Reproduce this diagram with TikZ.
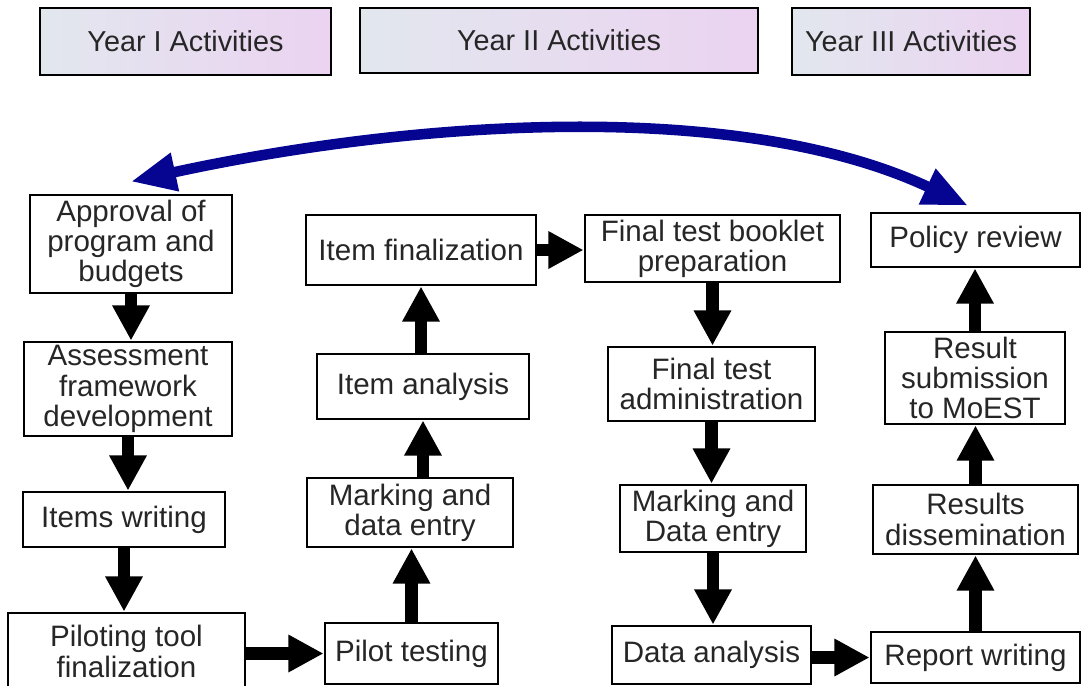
\documentclass[tikz,border=0pt]{standalone}
\usepackage{fontspec}
\setmainfont{Liberation Sans}
\usetikzlibrary{arrows.meta}
\definecolor{headl}{RGB}{226,231,238}
\definecolor{headr}{RGB}{235,211,241}
\definecolor{loopblue}{RGB}{5,5,145}
\begin{document}
\begin{tikzpicture}[x=0.025cm,y=-0.025cm,
    year/.style={draw,line width=2pt,left color=headl,right color=headr,text=black!85,
      font=\fontsize{20.5pt}{22pt}\selectfont,inner sep=0pt},
    box/.style={draw,line width=2pt,fill=white,text=black!85,align=center,
      font=\fontsize{21pt}{21.5pt}\selectfont,inner sep=0pt},
    flow/.style={line width=9pt,-{Triangle[width=25pt,length=25pt]}},
    loop/.style={loopblue,line width=7.5pt,{Triangle[width=26pt,length=32pt]}-{Triangle[width=26pt,length=32pt]}}]
      \useasboundingbox[fill=white] (0,0) rectangle (1082,685);
      \clip (0,0) rectangle (1082,685);

      % 年度
      \node[year,minimum width=7.275cm,minimum height=1.675cm] (y1) at (185.5,41.5) {Year I Activities};
      \node[year,minimum width=9.95cm,minimum height=1.625cm] (y2) at (559,40.5) {Year II Activities};
      \node[year,minimum width=5.95cm,minimum height=1.675cm] (y3) at (911,41.5) {Year III Activities};

      % 1列目
      \node[box,minimum width=5.05cm,minimum height=2.45cm] (approval) at (131,244) {Approval of\\program and\\budgets};
      \node[box,minimum width=5.2cm,minimum height=2.35cm] (framework) at (128,389) {Assessment\\framework\\development};
      \node[box,minimum width=5.05cm,minimum height=1.375cm] (writing) at (124,519.5) {Items writing};
      \node[box,minimum width=5.925cm,minimum height=1.925cm] (piloting) at (126.5,651.5) {Piloting tool\\finalization};
      % 2列目
      \node[box,minimum width=4.325cm,minimum height=1.525cm] (pilot) at (411.5,653.5) {Pilot testing};
      \node[box,minimum width=5.15cm,minimum height=1.725cm] (markA) at (410,512.5) {Marking and\\data entry};
      \node[box,minimum width=5.3cm,minimum height=1.625cm] (analysis) at (423,386.5) {Item analysis};
      \node[box,minimum width=5.75cm,minimum height=1.75cm] (itemfin) at (421,250) {Item finalization};
      % 3列目
      \node[box,minimum width=6.375cm,minimum height=1.675cm] (booklet) at (712.5,248.5) {Final test booklet\\preparation};
      \node[box,minimum width=5.175cm,minimum height=1.85cm] (admin) at (711.5,384) {Final test\\administration};
      \node[box,minimum width=4.65cm,minimum height=1.675cm] (markB) at (713,518.5) {Marking and\\Data entry};
      \node[box,minimum width=4.975cm,minimum height=1.45cm] (dataan) at (711.5,655) {Data analysis};
      % 4列目
      \node[box,minimum width=5.225cm,minimum height=1.275cm] (report) at (975.5,657.5) {Report writing};
      \node[box,minimum width=5.125cm,minimum height=1.725cm] (dissem) at (975.5,519.5) {Results\\dissemination};
      \node[box,minimum width=4.5cm,minimum height=2.3cm] (submit) at (975,378) {Result\\submission\\to MoEST};
      \node[box,minimum width=5.225cm,minimum height=1.35cm] (policy) at (975.5,240) {Policy review};

      % 矢印
      \draw[flow] (approval.south) -- (approval.south |- framework.north);
      \draw[flow] (framework.south) -- (framework.south |- writing.north);
      \draw[flow] (writing.south) -- (writing.south |- piloting.north);
      \draw[flow] (piloting.east |- pilot.west) -- (pilot.west);
      \draw[flow] (pilot.north) -- (pilot.north |- markA.south);
      \draw[flow] (analysis.south |- markA.north) -- (analysis.south);
      \draw[flow] (itemfin.south |- analysis.north) -- (itemfin.south);
      \draw[flow] (itemfin.east) -- (itemfin.east -| booklet.west);
      \draw[flow] (booklet.south) -- (booklet.south |- admin.north);
      \draw[flow] (admin.south) -- (admin.south |- markB.north);
      \draw[flow] (markB.south) -- (markB.south |- dataan.north);
      \draw[flow] (dataan.east |- report.west) -- (report.west);
      \draw[flow] (report.north) -- (report.north |- dissem.south);
      \draw[flow] (dissem.north) -- (dissem.north |- submit.south);
      \draw[flow] (submit.north) -- (submit.north |- policy.south);

      \draw[loop] ([yshift=0.3cm]approval.north) .. controls (424,118) and (743,100) .. ([xshift=-0.19cm,yshift=0.15cm]policy.north); %青
\end{tikzpicture}
\end{document}
